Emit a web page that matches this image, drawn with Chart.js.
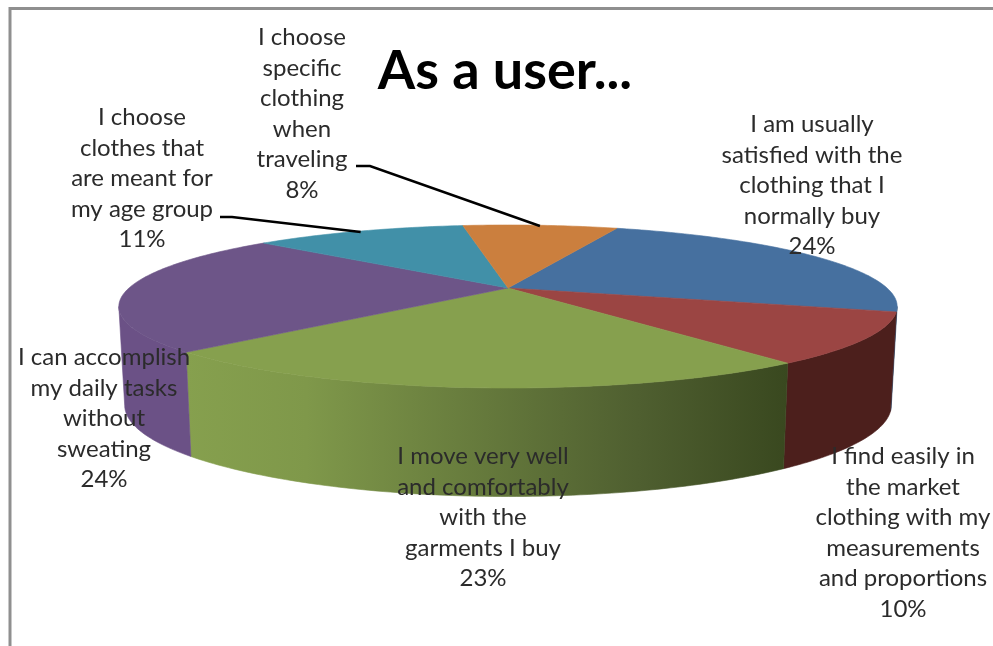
<!DOCTYPE html>
<html>
<head>
<meta charset="utf-8">
<title>As a user...</title>
<script src="https://cdn.jsdelivr.net/npm/chart.js@4"></script>
<style>
  html, body { margin: 0; padding: 0; background: #fff; }
  canvas { display: block; }
</style>
</head>
<body>
<canvas id="pie3d" width="993" height="646"></canvas>
<script>
const categories = [
  ['I am usually', 'satisfied with the', 'clothing that I', 'normally buy'],
  ['I find easily in', 'the market', 'clothing with my', 'measurements', 'and proportions'],
  ['I move very well', 'and comfortably', 'with the', 'garments I buy'],
  ['I can accomplish', 'my daily tasks', 'without', 'sweating'],
  ['I choose', 'clothes that', 'are meant for', 'my age group'],
  ['I choose', 'specific', 'clothing', 'when', 'traveling']
];
const shares = [24, 10, 23, 24, 11, 8];
const topColors = ['#46709f', '#9b4543', '#86a04e', '#6d5588', '#4190a8', '#cb7f3e'];
const wallColors = [
  [[0, '#2c4564']],
  [[0, '#4c1f1c']],
  [[0, '#86a04e'], [0.2, '#7f984a'], [0.75, '#4f5f30'], [1, '#39481f']],
  [[0, '#6b5186']],
  [[0, '#2b5a6a']],
  [[0, '#80502a']]
];

// where each label block sits: centre x, baseline of first line
const labelSpots = [[812, 132], [903, 464], [483, 464], [104, 365], [142, 125], [302, 45]];
// labels that get a leader line: elbow start points
const leaders = { 4: [[220, 217], [232, 217]], 5: [[356, 166], [370, 166]] };

const LINE_H = 30.6;
const APEX_X = 508, APEX_Y = 288;
const RX = 379, RY = 77.3, PERSP = 0.227;   // top disc projection
const WALL_SX = 0.985, WALL_SY = 1.12, WALL_DY = 96.5;
const FOLD = Math.asin(PERSP);              // angle where the disc's outline turns back

// angle on the disc -> screen position on the top face
function topPoint(a, r = 1) {
  const u = r * Math.cos(a), v = r * Math.sin(a);
  const w = 1 / (1 - PERSP * v);
  return [APEX_X + RX * u * w, APEX_Y + RY * v * w];
}

function bottomPoint(a) {
  const p = topPoint(a);
  return [APEX_X + (p[0] - APEX_X) * WALL_SX, APEX_Y + (p[1] - APEX_Y) * WALL_SY + WALL_DY];
}

function sweep(from, to) {
  const n = Math.max(2, Math.ceil((to - from) * 60));
  const out = [];
  for (let i = 0; i <= n; i++) out.push(from + (to - from) * i / n);
  return out;
}

// the part of an arc that faces the viewer, if any
function frontSpan(arc) {
  for (let k = -1; k <= 1; k++) {
    const from = Math.max(arc.startAngle, FOLD + k * 2 * Math.PI);
    const to = Math.min(arc.endAngle, Math.PI - FOLD + k * 2 * Math.PI);
    if (to > from) return [from, to];
  }
  return null;
}

function wallFill(ctx, stops, pts) {
  if (stops.length === 1) return stops[0][1];
  const xs = pts.map(p => p[0]);
  const g = ctx.createLinearGradient(Math.min(...xs), 0, Math.max(...xs), 0);
  stops.forEach(s => g.addColorStop(s[0], s[1]));
  return g;
}

function fillPath(ctx, pts, fill) {
  ctx.beginPath();
  pts.forEach((p, i) => i ? ctx.lineTo(p[0], p[1]) : ctx.moveTo(p[0], p[1]));
  ctx.closePath();
  ctx.fillStyle = fill;
  ctx.strokeStyle = fill;
  ctx.lineWidth = 0.6;
  ctx.fill();
  ctx.stroke();
}

// draws the pie's arc elements as a tilted disc with a side wall
const tiltedPie = {
  id: 'tiltedPie',
  beforeDatasetsDraw(chart) {
    const ctx = chart.ctx;
    const arcs = chart.getDatasetMeta(0).data;

    ctx.save();
    arcs.forEach((arc, i) => {
      const span = frontSpan(arc);
      if (!span) return;
      const steps = sweep(span[0], span[1]);
      const pts = steps.map(a => topPoint(a)).concat(steps.slice().reverse().map(bottomPoint));
      fillPath(ctx, pts, wallFill(ctx, wallColors[i], pts));
    });
    arcs.forEach((arc, i) => {
      const pts = [[APEX_X, APEX_Y]].concat(sweep(arc.startAngle, arc.endAngle).map(a => topPoint(a)));
      fillPath(ctx, pts, topColors[i]);
    });
    ctx.restore();
    return false;
  },
  afterDraw(chart) {
    const ctx = chart.ctx;
    const arcs = chart.getDatasetMeta(0).data;
    ctx.save();

    // chart frame, left and top edges only
    ctx.strokeStyle = '#8f8f8f';
    ctx.lineWidth = 3;
    ctx.beginPath();
    ctx.moveTo(10, 646);
    ctx.lineTo(10, 8.5);
    ctx.lineTo(993, 8.5);
    ctx.stroke();

    // leader lines end on the slice's middle angle
    ctx.strokeStyle = '#000';
    ctx.lineWidth = 2.5;
    Object.keys(leaders).forEach(i => {
      const end = topPoint((arcs[i].startAngle + arcs[i].endAngle) / 2, 0.985);
      ctx.beginPath();
      ctx.moveTo(leaders[i][0][0], leaders[i][0][1]);
      ctx.lineTo(leaders[i][1][0], leaders[i][1][1]);
      ctx.lineTo(end[0], end[1]);
      ctx.stroke();
    });

    ctx.fillStyle = '#2b2b2b';
    ctx.font = '24px Lato';
    ctx.textAlign = 'center';
    ctx.textBaseline = 'alphabetic';
    categories.forEach((lines, i) => {
      const all = lines.concat(shares[i] + '%');
      all.forEach((t, k) => ctx.fillText(t, labelSpots[i][0], labelSpots[i][1] + k * LINE_H));
    });
    ctx.restore();
  }
};

new Chart(document.getElementById('pie3d'), {
  type: 'pie',
  data: {
    labels: categories.map(c => c.join(' ')),
    datasets: [{ data: shares, backgroundColor: topColors, borderWidth: 0 }]
  },
  options: {
    responsive: false,
    animation: false,
    rotation: 20.4,
    layout: { padding: { left: 17, top: 39 } },
    plugins: {
      legend: { display: false },
      tooltip: { enabled: false },
      title: {
        display: true,
        text: 'As a user...',
        color: '#000',
        font: { family: 'Lato', size: 54, weight: 'bold' },
        padding: 0
      }
    }
  },
  plugins: [tiltedPie]
});
</script>
</body>
</html>
